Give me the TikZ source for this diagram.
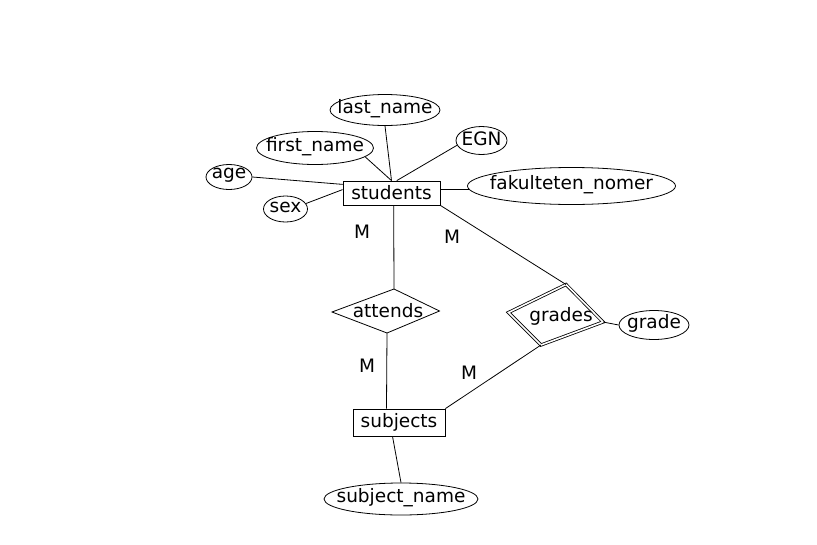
\documentclass[tikz,border=0pt]{standalone}
\usepackage{fontspec}
\setmainfont{DejaVu Sans}
\usetikzlibrary{shapes.geometric}

\begin{document}
\begin{tikzpicture}[
x=1pt, y=-1pt,
font=\fontsize{18.5}{21}\selectfont,
entity/.style={draw,
rectangle,
line width=0.8pt,
inner sep=0pt},
attr/.style={draw,
ellipse,
line width=0.8pt,
inner sep=0pt},
conn/.style={line width=0.8pt},
card/.style={inner sep=0pt},
every label/.style={yshift=1.5pt}
]

\useasboundingbox (0,0) rectangle (817,544);

% entities
\node[entity, minimum width=97pt, minimum height=24pt] (students) at (391.5,193) {students};
\node[entity, minimum width=92pt, minimum height=27pt] (subjects) at (399,422.5) {subjects};

% attributes
\node[attr, minimum width=110pt, minimum height=31pt, label=center:last\_name] (lastname) at (385,110) {};
\node[attr, minimum width=117pt, minimum height=33pt, label=center:first\_name] (firstname) at (315,148) {};
\node[attr, minimum width=51pt, minimum height=28pt, label=center:EGN] (egn) at (481.5,140.5) {};
\node[attr, minimum width=46pt, minimum height=25pt, label=center:age] (age) at (229,177) {};
\node[attr, minimum width=44pt, minimum height=26pt, label=center:sex] (sex) at (285.5,209) {};
\node[attr, minimum width=208pt, minimum height=37pt, label=center:fakulteten\_nomer] (fak) at (571.5,186) {};
\node[attr, minimum width=70pt, minimum height=29pt, label=center:grade] (grade) at (654,325) {};
\node[attr, minimum width=154pt, minimum height=32pt, label=center:subject\_name] (subjname) at (401,499) {};

% relationships
\coordinate (attT) at (394,289);
\coordinate (attR) at (439.5,311);
\coordinate (attB) at (387,333);
\coordinate (attL) at (332,312);
\draw[conn] (attT) -- (attR) -- (attB) -- (attL) -- cycle;
\node (attends) at (388,311) {attends};

\coordinate (grT) at (566,284.5);
\coordinate (grR) at (603,322);
\coordinate (grB) at (541,345);
\coordinate (grL) at (508.5,312.5);
\draw[conn, double, double distance=1.6pt] (grT) -- (grR) -- (grB) -- (grL) -- cycle;
\node (grades) at (561,316.5) {grades};

% connectors
\draw[conn] (lastname.south) -- (students.north);
\draw[conn] (firstname.-10) -- (students.north);
\draw[conn] (egn.191) -- (students.67);
\draw[conn] (age.east) -- (students.170);
\draw[conn] (sex.15) -- (students.176);
\draw[conn] (students.4) -- (fak.182);
\draw[conn] (students.-80) -- (attT);
\draw[conn] (students.south east) -- (grT);
\draw[conn] (attB) -- (subjects.132);
\draw[conn] (subjects.north east) -- (grB);
\draw[conn] (grR) -- (grade.west);
\draw[conn] (subjects.-115) -- (subjname.north);

% cardinalities
\node[card] (m1) at (362,231.5) {M};
\node[card] (m2) at (452,237) {M};
\node[card] (m3) at (367,365.5) {M};
\node[card] (m4) at (469,373) {M};

\end{tikzpicture}
\end{document}
